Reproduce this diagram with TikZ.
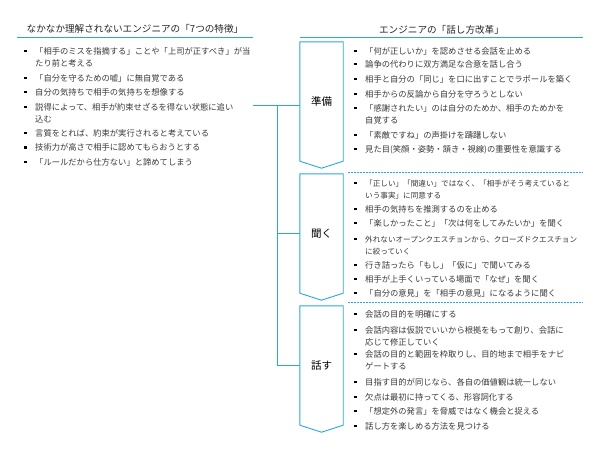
\documentclass[tikz,border=0pt]{standalone}
\usepackage{fontspec}
\setmainfont{Noto Sans CJK JP}
\definecolor{lineblue}{RGB}{41,168,224}
\definecolor{txtgray}{RGB}{56,56,56}
\newcommand{\bul}{\llap{\textcolor{black}{\rule[2.1pt]{2.4pt}{2.4pt}}\hspace{8.4pt}}}
\newcommand{\itm}[1]{\bul\begin{tabular}[t]{@{}l@{}}#1\end{tabular}}

\begin{document}
\begin{tikzpicture}
	[
		x=1pt, y=-1pt,
		title/.style={anchor=base, inner sep=0pt, text=black!85, font=\fontsize{9.6}{11}\selectfont},
		item/.style={anchor=base west, inner sep=0pt, text=txtgray, font=\fontsize{8.3}{11.8}\selectfont},
		tight/.style={item, font=\fontsize{7.6}{11.8}\selectfont},
		chev/.style={minimum width=43pt, minimum height=119pt, inner sep=0pt, font=\fontsize{10.5}{12}\selectfont},
		outline/.style={draw=lineblue, line width=0.9pt, line join=miter},
		rule/.style={draw=lineblue, line width=0.9pt},
		sep/.style={draw=lineblue, line width=0.7pt, dash pattern=on 1.8pt off 1.2pt},
		conn/.style={draw=lineblue, line width=0.9pt}
	]
	\useasboundingbox (0, 0) rectangle (600, 450);

	\node (ltitle) at (135, 32.5) [title] {なかなか理解されないエンジニアの「7つの特徴」};
	\node (rtitle) at (441.5, 33.5) [title] {エンジニアの「話し方改革」};
	\draw [rule] (17, 37) -- (253, 37);
	\draw [rule] (300, 37) -- (583, 37);

	\node (trait1) at (35, 54.2)  [item] {\itm{「相手のミスを指摘する」ことや「上司が正すべき」が当\\たり前と考える}};
	\node (trait2) at (35, 81.2)  [item] {\itm{「自分を守るための嘘」に無自覚である}};
	\node (trait3) at (35, 95.2)  [item] {\itm{自分の気持ちで相手の気持ちを想像する}};
	\node (trait4) at (35, 110.2) [item] {\itm{説得によって、相手が約束せざるを得ない状態に追い\\込む}};
	\node (trait5) at (35, 136.2) [item] {\itm{言質をとれば、約束が実行されると考えている}};
	\node (trait6) at (35, 150.7) [item] {\itm{技術力が高さで相手に認めてもらおうとする}};
	\node (trait7) at (35, 165.2) [item] {\itm{「ルールだから仕方ない」と諦めてしまう}};

	\node (prep)   at (321.5, 101.5) [chev] {準備};
	\node (listen) at (321.5, 233.5) [chev] {聞く};
	\node (speak)  at (321.5, 365.5) [chev] {話す};
	\draw [outline] (prep.north west) -- (prep.south west) -- ([yshift=-7pt]prep.south)
		-- (prep.south east) -- (prep.north east) -- cycle;
	\draw [outline] (listen.north west) -- (listen.south west) -- ([yshift=-7pt]listen.south)
		-- (listen.south east) -- (listen.north east) -- cycle;
	\draw [outline] (speak.north west) -- (speak.south west) -- ([yshift=-7pt]speak.south)
		-- (speak.south east) -- (speak.north east) -- cycle;

	\coordinate (src) at (253, 105);
	\coordinate (jn)  at (277, 105);
	\draw [conn] (src) -- (src -| prep.west);
	\draw [conn] (jn) |- (listen.west);
	\draw [conn] (jn) |- (speak.west);

	\draw [sep] (348, 172.5) -- (583, 172.5);
	\draw [sep] (348, 302.5) -- (583, 302.5);

	\node (prep1) at (365, 54.2)  [item] {\itm{「何が正しいか」を認めさせる会話を止める}};
	\node (prep2) at (365, 67.2)  [item] {\itm{論争の代わりに双方満足な合意を話し合う}};
	\node (prep3) at (365, 82.2)  [item] {\itm{相手と自分の「同じ」を口に出すことでラポールを築く}};
	\node (prep4) at (365, 97.2)  [item] {\itm{相手からの反論から自分を守ろうとしない}};
	\node (prep5) at (365, 111.2) [item] {\itm{「感謝されたい」のは自分のためか、相手のためかを\\自覚する}};
	\node (prep6) at (365, 138.2) [item] {\itm{「素敵ですね」の声掛けを躊躇しない}};
	\node (prep7) at (365, 152.2) [item] {\itm{見た目(笑顔・姿勢・頷き・視線)の重要性を意識する}};

	\node (lis1) at (365, 186.2) [tight] {\itm{「正しい」「間違い」ではなく、「相手がそう考えていると\\いう事実」に同意する}};
	\node (lis2) at (365, 212.2) [item] {\itm{相手の気持ちを推測するのを止める}};
	\node (lis3) at (365, 226.2) [item] {\itm{「楽しかったこと」「次は何をしてみたいか」を聞く}};
	\node (lis4) at (365, 242.2) [tight] {\itm{外れないオープンクエスチョンから、クローズドクエスチョン\\に絞っていく}};
	\node (lis5) at (365, 268.2) [item] {\itm{行き詰ったら「もし」「仮に」で聞いてみる}};
	\node (lis6) at (365, 282.2) [item] {\itm{相手が上手くいっている場面で「なぜ」を聞く}};
	\node (lis7) at (365, 296.2) [item] {\itm{「自分の意見」を「相手の意見」になるように聞く}};

	\node (spk1) at (365, 317.2) [item] {\itm{会話の目的を明確にする}};
	\node (spk2) at (365, 333.2) [item] {\itm{会話内容は仮説でいいから根拠をもって創り、会話に\\応じて修正していく}};
	\node (spk3) at (365, 357.2) [item] {\itm{会話の目的と範囲を枠取りし、目的地まで相手をナビ\\ゲートする}};
	\node (spk4) at (365, 385.2) [item] {\itm{目指す目的が同じなら、各自の価値観は統一しない}};
	\node (spk5) at (365, 400.2) [item] {\itm{欠点は最初に持ってくる、形容詞化する}};
	\node (spk6) at (365, 414.2) [item] {\itm{「想定外の発言」を脅威ではなく機会と捉える}};
	\node (spk7) at (365, 429.2) [item] {\itm{話し方を楽しめる方法を見つける}};
\end{tikzpicture}
\end{document}
